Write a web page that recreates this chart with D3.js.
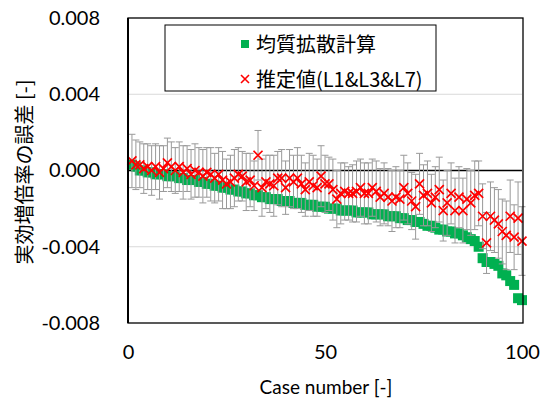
<!DOCTYPE html>
<html>
<head>
<meta charset="utf-8">
<script src="https://cdn.jsdelivr.net/npm/d3@7"></script>
<style>
  body { margin: 0; background: #fff; }
  svg { display: block; }
</style>
</head>
<body>
<svg id="chart" width="552" height="399"></svg>
<script>
// case numbers 1..100
var cases = d3.range(1, 101);

// 均質拡散計算 (green squares)
var greenVals = [
  0.0003, 0.0002, 0.0000, -0.0000, -0.0001, -0.0001, -0.0002, -0.0002, -0.0002, -0.0003,
  -0.0003, -0.0003, -0.0004, -0.0004, -0.0005, -0.0005, -0.0005, -0.0006, -0.0006, -0.0007,
  -0.0007, -0.0008, -0.0008, -0.0009, -0.0009, -0.0010, -0.0010, -0.0011, -0.0011, -0.0012,
  -0.0012, -0.0013, -0.0013, -0.0014, -0.0014, -0.0015, -0.0015, -0.0015, -0.0016, -0.0016,
  -0.0016, -0.0017, -0.0017, -0.0017, -0.0018, -0.0018, -0.0018, -0.0019, -0.0019, -0.0019,
  -0.0020, -0.0020, -0.0020, -0.0021, -0.0021, -0.0021, -0.0021, -0.0022, -0.0022, -0.0022,
  -0.0022, -0.0023, -0.0023, -0.0023, -0.0023, -0.0024, -0.0024, -0.0024, -0.0025, -0.0025,
  -0.0026, -0.0026, -0.0027, -0.0027, -0.0028, -0.0029, -0.0029, -0.0030, -0.0031, -0.0031,
  -0.0032, -0.0032, -0.0033, -0.0033, -0.0034, -0.0035, -0.0036, -0.0037, -0.0040, -0.0046,
  -0.0048, -0.0048, -0.0049, -0.0050, -0.0054, -0.0055, -0.0058, -0.0060, -0.0067, -0.0068
];

// 推定値(L1&L3&L7) (red crosses)
var redVals = [
  0.0005, 0.0003, 0.0003, 0.0001, 0.0002, 0.0000, 0.0002, -0.0001, 0.0001, 0.0004,
  0.0002, 0.0000, 0.0002, -0.0001, 0.0001, -0.0002, 0.0000, -0.0001, -0.0003, -0.0001,
  -0.0002, -0.0004, -0.0002, -0.0005, -0.0007, -0.0006, -0.0004, -0.0002, -0.0003, -0.0006,
  -0.0005, -0.0008, 0.0008, -0.0009, -0.0006, -0.0007, -0.0008, -0.0004, -0.0004, -0.0009,
  -0.0004, -0.0006, -0.0004, -0.0007, -0.0010, -0.0006, -0.0008, -0.0009, -0.0003, -0.0007,
  -0.0007, -0.0010, -0.0015, -0.0012, -0.0011, -0.0012, -0.0012, -0.0011, -0.0009, -0.0012,
  -0.0012, -0.0009, -0.0011, -0.0014, -0.0012, -0.0014, -0.0016, -0.0014, -0.0015, -0.0009,
  -0.0012, -0.0016, -0.0019, -0.0007, -0.0013, -0.0012, -0.0017, -0.0014, -0.0010, -0.0021,
  -0.0017, -0.0012, -0.0021, -0.0014, -0.0021, -0.0015, -0.0017, -0.0013, -0.0012, -0.0024,
  -0.0038, -0.0024, -0.0026, -0.0028, -0.0032, -0.0034, -0.0024, -0.0035, -0.0025, -0.0037
];

// error bar half-widths on the red series
var errVals = [
  0.0014, 0.0013, 0.0012, 0.0013, 0.0012, 0.0013, 0.0012, 0.0014, 0.0012, 0.0013,
  0.0013, 0.0012, 0.0013, 0.0014, 0.0012, 0.0013, 0.0014, 0.0013, 0.0014, 0.0013,
  0.0014, 0.0013, 0.0014, 0.0015, 0.0013, 0.0014, 0.0015, 0.0014, 0.0013, 0.0015,
  0.0014, 0.0013, 0.0013, 0.0015, 0.0014, 0.0015, 0.0016, 0.0014, 0.0015, 0.0014,
  0.0015, 0.0014, 0.0016, 0.0015, 0.0014, 0.0015, 0.0016, 0.0015, 0.0016, 0.0015,
  0.0014, 0.0016, 0.0015, 0.0016, 0.0015, 0.0014, 0.0015, 0.0016, 0.0015, 0.0016,
  0.0016, 0.0015, 0.0016, 0.0015, 0.0016, 0.0015, 0.0016, 0.0016, 0.0015, 0.0017,
  0.0016, 0.0015, 0.0017, 0.0016, 0.0016, 0.0017, 0.0015, 0.0016, 0.0017, 0.0016,
  0.0017, 0.0016, 0.0017, 0.0016, 0.0017, 0.0016, 0.0017, 0.0018, 0.0017, 0.0017,
  0.0016, 0.0018, 0.0017, 0.0018, 0.0017, 0.0018, 0.0019, 0.0017, 0.0019, 0.0018
];

var xTicks = [0, 50, 100];
var yTicks = [0.008, 0.004, 0, -0.004, -0.008];
var legendLabels = ["均質拡散計算", "推定値(L1&L3&L7)"];

(function () {
  var svg = d3.select("#chart");
  var latin = "Lato, 'Noto Sans', sans-serif";
  var cjk = "'Noto Sans CJK JP', sans-serif";
  var pl = 128, pr = 522, pt = 18, pb = 323;

  var x = d3.scaleLinear().domain([0, 100]).range([pl, pr]);
  var y = d3.scaleLinear().domain([-0.008, 0.008]).range([pb, pt]);

  var fmt = function (d) { return d3.format(".3f")(d).replace("\u2212", "-"); };

  // gridlines
  svg.append("g").selectAll("line")
    .data(yTicks.filter(function (d) { return d !== 0 && Math.abs(d) < 0.008; }))
    .enter().append("line")
    .attr("x1", pl).attr("x2", pr)
    .attr("y1", function (d) { return y(d); }).attr("y2", function (d) { return y(d); })
    .attr("stroke", "#d9d9d9").attr("stroke-width", 1);

  // zero line
  svg.append("line")
    .attr("x1", pl).attr("x2", pr)
    .attr("y1", y(0)).attr("y2", y(0))
    .attr("stroke", "#000").attr("stroke-width", 1.3);

  var pts = cases.map(function (c, i) { return { c: c, g: greenVals[i], r: redVals[i], e: errVals[i] }; });

  // green squares
  svg.append("g").selectAll("rect")
    .data(pts).enter().append("rect")
    .attr("x", function (d) { return x(d.c) - 5; })
    .attr("y", function (d) { return y(d.g) - 5; })
    .attr("width", 10).attr("height", 10)
    .attr("fill", "#00b050");

  // error bars
  var eb = svg.append("g").attr("stroke", "#999").attr("stroke-width", 1);
  eb.selectAll("line.v").data(pts).enter().append("line")
    .attr("x1", function (d) { return x(d.c); }).attr("x2", function (d) { return x(d.c); })
    .attr("y1", function (d) { return y(d.r + d.e); }).attr("y2", function (d) { return y(d.r - d.e); });
  eb.selectAll("line.t").data(pts).enter().append("line")
    .attr("x1", function (d) { return x(d.c) - 3.5; }).attr("x2", function (d) { return x(d.c) + 3.5; })
    .attr("y1", function (d) { return y(d.r + d.e); }).attr("y2", function (d) { return y(d.r + d.e); });
  eb.selectAll("line.b").data(pts).enter().append("line")
    .attr("x1", function (d) { return x(d.c) - 3.5; }).attr("x2", function (d) { return x(d.c) + 3.5; })
    .attr("y1", function (d) { return y(d.r - d.e); }).attr("y2", function (d) { return y(d.r - d.e); });

  // red crosses
  svg.append("g").selectAll("path")
    .data(pts).enter().append("path")
    .attr("d", "M-4.5,-4.5L4.5,4.5M-4.5,4.5L4.5,-4.5")
    .attr("transform", function (d) { return "translate(" + x(d.c) + "," + y(d.r) + ")"; })
    .attr("stroke", "#ff0000").attr("stroke-width", 1.7).attr("fill", "none");

  // plot box
  svg.append("rect")
    .attr("x", pl).attr("y", pt)
    .attr("width", pr - pl + 1).attr("height", pb - pt)
    .attr("fill", "none").attr("stroke", "#000").attr("stroke-width", 1.3);
  svg.append("line")
    .attr("x1", pl).attr("x2", pl).attr("y1", pt).attr("y2", pb)
    .attr("stroke", "#000").attr("stroke-width", 2);

  // axes
  var yAxis = svg.append("g")
    .attr("transform", "translate(" + pl + ",0)")
    .call(d3.axisLeft(y).tickValues(yTicks).tickFormat(fmt).tickSize(0).tickPadding(28));
  yAxis.select(".domain").remove();
  yAxis.selectAll("text").attr("font-size", 20).attr("fill", "#000").attr("font-family", latin);

  var xAxis = svg.append("g")
    .attr("transform", "translate(0," + pb + ")")
    .call(d3.axisBottom(x).tickValues(xTicks).tickFormat(d3.format("d")).tickSize(0).tickPadding(22));
  xAxis.select(".domain").remove();
  xAxis.selectAll("text").attr("font-size", 20).attr("fill", "#000").attr("font-family", latin);

  // axis titles
  svg.append("text")
    .attr("x", 326).attr("y", 394)
    .attr("text-anchor", "middle")
    .attr("font-family", latin)
    .attr("font-size", 19)
    .text("Case number [-]");

  svg.append("text")
    .attr("transform", "translate(32,172) rotate(-90)")
    .attr("text-anchor", "middle")
    .attr("font-family", cjk)
    .attr("font-size", 20)
    .text("実効増倍率の誤差 [-]");

  // legend
  var lg = svg.append("g");
  lg.append("rect")
    .attr("x", 165).attr("y", 25).attr("width", 271).attr("height", 66)
    .attr("fill", "#fff").attr("stroke", "#000").attr("stroke-width", 1);
  lg.append("rect").attr("x", 241).attr("y", 40).attr("width", 8).attr("height", 8).attr("fill", "#00b050");
  lg.append("path")
    .attr("d", "M-4,-4L4,4M-4,4L4,-4")
    .attr("transform", "translate(245,79)")
    .attr("stroke", "#ff0000").attr("stroke-width", 1.6).attr("fill", "none");
  lg.append("text")
    .attr("x", 256).attr("y", 52)
    .attr("font-family", cjk).attr("font-size", 20)
    .text(legendLabels[0]);
  lg.append("text")
    .attr("x", 256).attr("y", 87)
    .attr("font-family", cjk).attr("font-size", 20)
    .text(legendLabels[1]);
})();
</script>
</body>
</html>
